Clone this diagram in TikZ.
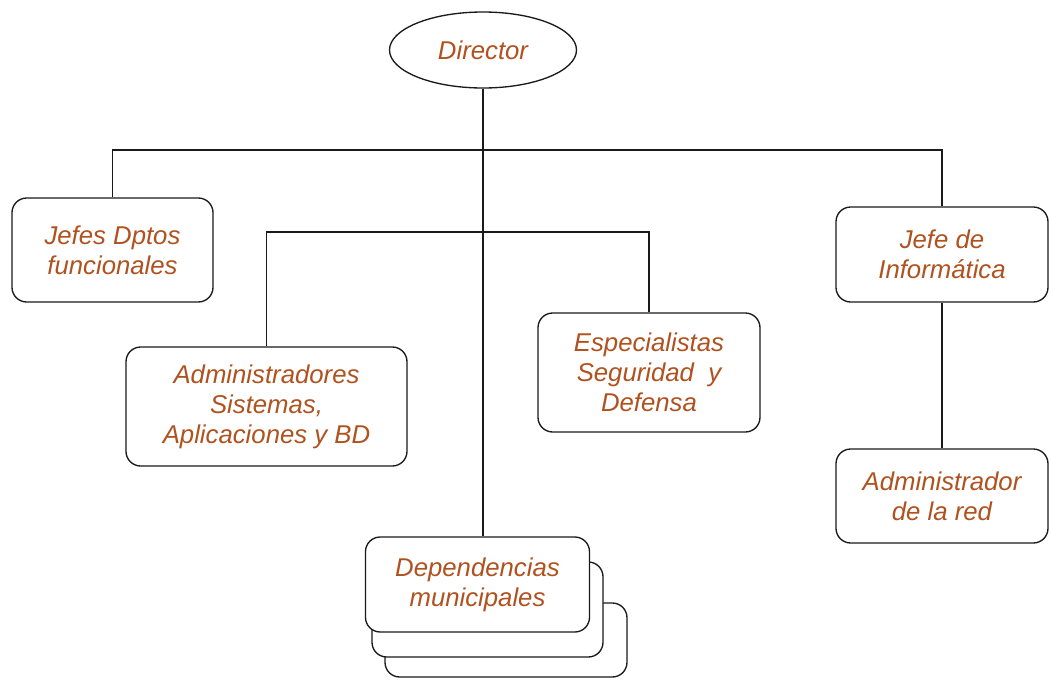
\documentclass[tikz,border=0pt]{standalone}
\usepackage{fontspec}
\setmainfont{Liberation Sans}
\usetikzlibrary{shapes.geometric}
\definecolor{OrgInk}{HTML}{1A1A1A}
\definecolor{OrgRust}{HTML}{B0521F}
\tikzset{
  orgbox/.style={draw=OrgInk,line width=1pt,rounded corners=11pt,fill=white,
    inner sep=0pt,align=center,text=OrgRust,
    font=\itshape\fontsize{19.3}{22.5}\selectfont},
  orgoval/.style={orgbox,ellipse,rounded corners=0pt},
  orgline/.style={draw=OrgInk,line width=1pt}
}
\begin{document}
\begin{tikzpicture}[x=0.75pt,y=-0.75pt]
  \useasboundingbox (0,0) rectangle (1050,679);
  \node[orgoval,minimum width=187*0.75pt,minimum height=76*0.75pt] (dir) at (483,50) {Director};
  \node[orgbox,minimum width=201*0.75pt,minimum height=104*0.75pt] (jefes) at (112.5,250) {Jefes Dptos\\funcionales};
  \node[orgbox,minimum width=212*0.75pt,minimum height=95*0.75pt] (jinf) at (942,254.5) {Jefe de\\Informática};
  \node[orgbox,minimum width=281*0.75pt,minimum height=119*0.75pt] (admin) at (266.5,406.5) {Administradores\\Sistemas,\\Aplicaciones y BD};
  \node[orgbox,minimum width=222*0.75pt,minimum height=119*0.75pt] (espec) at (649,372.5) {Especialistas\\Seguridad~~y\\Defensa};
  \node[orgbox,minimum width=212*0.75pt,minimum height=94*0.75pt] (red) at (942,496) {Administrador\\de la red};
  \draw[orgline,rounded corners=11pt] (385,603) rectangle (627,677);
  \draw[orgline,rounded corners=11pt,fill=white] (372,562) rectangle (603,657);
  \node[orgbox,minimum width=224*0.75pt,minimum height=95*0.75pt] (dep) at (477.5,584.5) {Dependencias\\municipales};
  \coordinate (bus1) at (483,150);
  \coordinate (bus2) at (483,232);
  \draw[orgline] (dir.south) -- (dir.south |- dep.north);
  \draw[orgline] (jefes.north) |- (bus1) -| (jinf.north);
  \draw[orgline] (admin.north) |- (bus2) -| (espec.north);
  \draw[orgline] (jinf.south) -- (red.north);
\end{tikzpicture}
\end{document}
